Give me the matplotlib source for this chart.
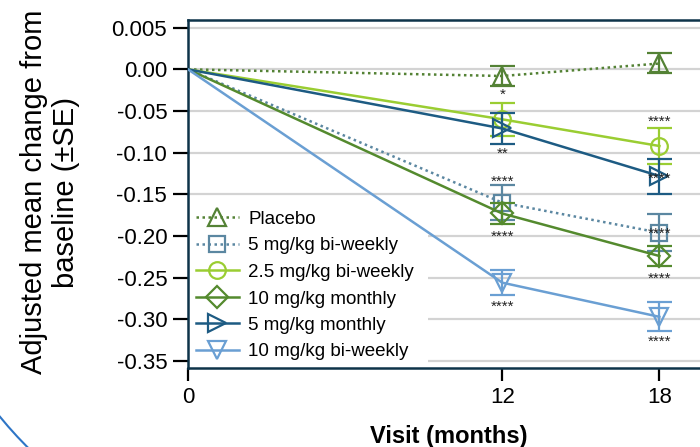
import matplotlib
matplotlib.use("Agg")
import matplotlib.pyplot as plt
from matplotlib.patches import Arc

plt.rcParams['font.family'] = ['Liberation Sans', 'DejaVu Sans']

# data
visits = [0, 12, 18]
series_names = ["Placebo", "5 mg/kg bi-weekly", "2.5 mg/kg bi-weekly",
                "10 mg/kg monthly", "5 mg/kg monthly", "10 mg/kg bi-weekly"]
placebo = [0.0, -0.008, 0.007]
bw5 = [0.0, -0.160, -0.196]
bw25 = [0.0, -0.060, -0.092]
mo10 = [0.0, -0.173, -0.224]
mo5 = [0.0, -0.071, -0.128]
bw10 = [0.0, -0.256, -0.297]
placebo_se = [0.0, 0.012, 0.012]
bw5_se = [0.0, 0.021, 0.022]
bw25_se = [0.0, 0.020, 0.022]
mo10_se = [0.0, 0.012, 0.012]
mo5_se = [0.0, 0.018, 0.021]
bw10_se = [0.0, 0.015, 0.0175]
# significance stars at months 12 and 18
placebo_sig = ["*", ""]
bw5_sig = ["****", "****"]
bw25_sig = ["", "****"]
mo10_sig = ["****", "****"]
mo5_sig = ["**", "****"]
bw10_sig = ["****", "****"]
ytick_vals = [0.05, 0.0, -0.05, -0.10, -0.15, -0.20, -0.25, -0.30, -0.35]
ytick_labels = ["0.005", "0.00", "-0.05", "-0.10", "-0.15", "-0.20", "-0.25", "-0.30", "-0.35"]

means = [placebo, bw5, bw25, mo10, mo5, bw10]
ses = [placebo_se, bw5_se, bw25_se, mo10_se, mo5_se, bw10_se]
sigs = [placebo_sig, bw5_sig, bw25_sig, mo10_sig, mo5_sig, bw10_sig]

# styles
colors = ["#548235", "#5b87a1", "#9acd32", "#548a2e", "#1d5b83", "#6a9fd3"]
markers = ["^", "s", "o", "D", ">", "v"]
msizes = [13, 11, 12, 11, 13, 13]
styles = [(0, (1, 1.4)), (0, (1, 1.4)), "-", "-", "-", "-"]
# star offsets (pixels, + is down) from the mean, for month 12 and 18
star_off = [[14, 0], [-25, -3.5], [0, -29], [18.5, 18], [20.5, -1.5], [20, 20]]

fig = plt.figure(figsize=(7, 4.47), dpi=100)
ax = fig.add_axes([188/700, 1 - 368/447, 512/700, 348/447])

handles = []
for i in range(6):
    ln, = ax.plot(visits, means[i], color=colors[i], lw=1.8, ls=styles[i],
                  marker=markers[i], ms=msizes[i], mfc="none", mec=colors[i],
                  mew=1.6, markevery=[1, 2], label=series_names[i], zorder=3)
    ax.errorbar(visits[1:], means[i][1:], yerr=ses[i][1:], fmt="none",
                ecolor=colors[i], elinewidth=1.6, capsize=9, capthick=1.6, zorder=3)
    handles.append(ln)
    for j in range(2):
        if sigs[i][j]:
            ax.annotate(sigs[i][j], (visits[j + 1], means[i][j + 1]),
                        xytext=(0, -(star_off[i][j] + 8.5) * 0.72),
                        textcoords="offset points", ha="center", va="baseline",
                        fontsize=11, color="#222222", zorder=4)

ax.set_xlim(0, 19.55)
ax.set_ylim(-0.3584, 0.0592)
ax.set_xticks([0, 12, 18])
ax.set_yticks(ytick_vals)
ax.set_yticklabels(ytick_labels)
ax.tick_params(axis="both", labelsize=16, width=1.6, length=11, color="black", pad=4)
ax.tick_params(axis="x", length=9, pad=5)
ax.grid(axis="y", color="#d3d3d3", lw=1.6, zorder=0)
ax.set_axisbelow(True)
for s in ["left", "bottom", "top"]:
    ax.spines[s].set_color("#0d3349")
    ax.spines[s].set_linewidth(1.8)
ax.spines["right"].set_visible(False)

leg = ax.legend(handles=handles, loc="lower left", fontsize=13.5, frameon=True,
                bbox_to_anchor=(0.0, 0.0, 240/512, 0.5), mode="expand",
                framealpha=1, edgecolor="white", borderaxespad=0.0, borderpad=0.4,
                handlelength=2.3, handletextpad=0.5, labelspacing=0.5)
leg.get_frame().set_linewidth(0)
# above the grid, below spines and data lines
leg.set_zorder(1)

fig.text(50/700, 1 - 192/447, "Adjusted mean change from\nbaseline (±SE)",
         rotation=90, ha="center", va="center", fontsize=21, linespacing=1.15,
         multialignment="center")
fig.text(449/700, 1 - 436/447, "Visit (months)", ha="center", va="center",
         fontsize=17, fontweight="bold")

# decorative arc in the lower left corner
arc = Arc((310/700, 283/447), 800/700, 800/447, theta1=205, theta2=240,
          transform=fig.transFigure, edgecolor="#2e75c6", lw=1.5)
fig.patches.append(arc)

fig.savefig("out.png", dpi=100)
